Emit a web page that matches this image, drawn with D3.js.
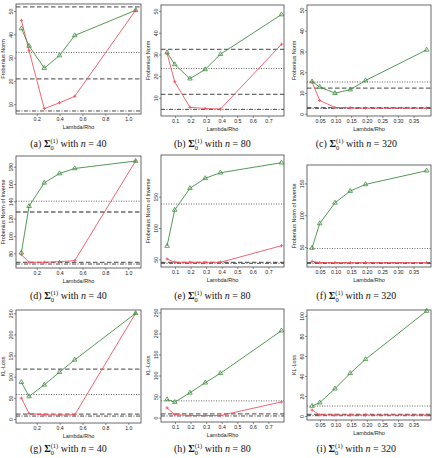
<!DOCTYPE html>
<html><head><meta charset="utf-8">
<script src="https://cdn.jsdelivr.net/npm/d3@7"></script>
<style>body{margin:0;background:#fff} svg{display:block}</style>
</head><body><svg id="c" width="432" height="458"></svg>
<script>
// ---- data ----
const lambdaN40  = [0.066, 0.133, 0.266, 0.399, 0.532, 1.064];
const lambdaN80  = [0.049, 0.098, 0.196, 0.294, 0.392, 0.784];
const lambdaN320 = [0.0245, 0.049, 0.098, 0.147, 0.196, 0.392];

// Frobenius norm
const greenA = [42.5, 35.0, 25.5, 30.9, 39.5, 50.3];
const redA   = [46.0, 33.0, 8.1, 10.6, 13.4, 50.3];
const greenB = [30.9, 25.4, 18.8, 23.1, 30.1, 48.4];
const redB   = [30.5, 17.4, 5.6, 5.1, 4.8, 34.7];
const greenC = [15.5, 12.9, 9.9, 11.6, 16.0, 30.8];
const redC   = [15.3, 6.4, 3.0, 2.8, 2.7, 2.7];
// Frobenius norm of inverse
const greenD = [80.7, 134.4, 161.4, 172.2, 178.0, 186.6];
const redD   = [78.4, 69.6, 69.6, 70.3, 71.5, 186.6];
const greenE = [71.2, 128.8, 163.4, 179.4, 188.3, 204.3];
const redE   = [50.5, 45.2, 45.2, 45.2, 45.2, 71.7];
const greenF = [48.4, 86.9, 119.4, 137.9, 148.4, 169.9];
const redF   = [27.4, 25.4, 25.4, 25.4, 25.4, 25.4];
// KL loss
const greenG = [87.3, 53.3, 80.9, 110.8, 139.9, 250.0];
const redG   = [49.5, 13.0, 10.0, 9.5, 10.0, 250.0];
const greenH = [43.1, 36.6, 58.9, 82.8, 105.3, 206.5];
const redH   = [23.0, 7.2, 4.8, 4.8, 4.8, 37.3];
const greenI = [10.0, 13.3, 27.3, 42.7, 56.7, 105.0];
const redI   = [6.0, 1.2, 1.0, 1.0, 1.0, 1.0];

// reference lines: [upper dashed, dotted, lower dashed, dot-dash]
const refA = [51.8, 32.2, 20.9, 7.1];
const refB = [32.3, 23.5, 11.6, 4.65];
const refC = [12.3, 15.3, 2.9, 2.6];
const refD = [127.7, 140.2, 69.6, 67.6];
const refE = [null, 138.3, 45.2, 43.6];
const refF = [null, 47.5, 25.4, 24.3];
const refG = [117.9, 58.0, 11.8, 7.0];
const refH = [null, 39.7, 8.6, 3.8];
const refI = [null, 10.0, 1.7, 0.3];

const ticksX1 = [0.2, 0.4, 0.6, 0.8, 1.0];
const ticksX2 = [0.1, 0.2, 0.3, 0.4, 0.5, 0.6, 0.7];
const ticksX3 = [0.05, 0.10, 0.15, 0.20, 0.25, 0.30, 0.35];
const ticksYA = [10, 20, 30, 40, 50];
const ticksYC = [0, 10, 20, 30, 40, 50];
const ticksYD = [80, 100, 120, 140, 160, 180];
const ticksYE = [50, 100, 150];
const ticksYG = [0, 50, 100, 150, 200, 250];
const ticksYI = [0, 20, 40, 60, 80, 100];

const yLabels = ["Frobenius Norm", "Frobenius Norm of Inverse", "KL-Loss"];
const letters = ["a","b","c","d","e","f","g","h","i"];
const sampleSizes = [40, 80, 320];

// ---- layout ----
const cols = [
  {l:16, r:141, xd:[0.019, 1.111], xs:lambdaN40, xt:ticksX1, fmt:".1f", cx:70},
  {l:161, r:284, xd:[0.010, 0.800], xs:lambdaN80, xt:ticksX2, fmt:".1f", cx:214},
  {l:307, r:431, xd:[0.0083, 0.406], xs:lambdaN320, xt:ticksX3, fmt:".2f", cx:358}
];
const panels = [
  {c:0,row:0,t:4,b:114,yd:[5.8,53],yt:ticksYA,g:greenA,r:redA,ref:refA},
  {c:1,row:0,t:5,b:116,yd:[1.6,52.8],yt:ticksYA,g:greenB,r:redB,ref:refB},
  {c:2,row:0,t:5,b:116,yd:[-1.1,52.4],yt:ticksYC,g:greenC,r:redC,ref:refC},
  {c:0,row:1,t:156,b:268,yd:[63,192.4],yt:ticksYD,g:greenD,r:redD,ref:refD},
  {c:1,row:1,t:155,b:267,yd:[37.7,216.6],yt:ticksYE,g:greenE,r:redE,ref:refE},
  {c:2,row:1,t:165,b:267,yd:[18.5,178.9],yt:ticksYE,g:greenF,r:redF,ref:refF},
  {c:0,row:2,t:310,b:423,yd:[-9.4,257.8],yt:ticksYG,g:greenG,r:redG,ref:refG},
  {c:1,row:2,t:309,b:422,yd:[-10.5,258],yt:ticksYG,g:greenH,r:redH,ref:refH},
  {c:2,row:2,t:310,b:420,yd:[-4,106],yt:ticksYI,g:greenI,r:redI,ref:refI}
];
const captionY = [147, 299, 452];
const GREEN = "#3f8f3f", RED = "#ef5560";
const refStyles = [
  {stroke:"#6a6a6a", w:1.3, dash:"4.5,2.5"},
  {stroke:"#555", w:0.9, dash:"1,1.5"},
  {stroke:"#6a6a6a", w:1.3, dash:"4.5,2.5"},
  {stroke:"#333", w:0.9, dash:"4,1.5,1,1.5"}
];
const SANS = "Liberation Sans, Arial, Helvetica, sans-serif";
const SERIF = "Liberation Serif, Times New Roman, serif";

const svg = d3.select("#c");

panels.forEach((p, i) => {
  const col = cols[p.c];
  const x = d3.scaleLinear().domain(col.xd).range([col.l, col.r]);
  const y = d3.scaleLinear().domain(p.yd).range([p.b, p.t]);
  const g = svg.append("g");

  // reference lines
  p.ref.forEach((v, k) => {
    if (v === null) return;
    const s = refStyles[k];
    g.append("line").attr("x1", col.l).attr("x2", col.r)
      .attr("y1", y(v)).attr("y2", y(v))
      .attr("stroke", s.stroke).attr("stroke-width", s.w).attr("stroke-dasharray", s.dash);
  });

  const pts = (vals) => col.xs.map((xv, j) => [x(xv), y(vals[j])]);
  const line = d3.line();
  // red series
  g.append("path").attr("d", line(pts(p.r))).attr("fill", "none")
    .attr("stroke", RED).attr("stroke-width", 0.9);
  // green series
  g.append("path").attr("d", line(pts(p.g))).attr("fill", "none")
    .attr("stroke", GREEN).attr("stroke-width", 0.9);
  // markers
  pts(p.r).forEach(([px, py]) => {
    g.append("path").attr("d", `M${px-1.6},${py}H${px+1.6}M${px},${py-1.6}V${py+1.6}`)
      .attr("stroke", RED).attr("stroke-width", 0.9);
  });
  pts(p.g).forEach(([px, py]) => {
    g.append("path").attr("d", d3.symbol(d3.symbolTriangle, 9)())
      .attr("transform", `translate(${px},${py})`)
      .attr("fill", "none").attr("stroke", GREEN).attr("stroke-width", 0.8);
  });

  // box
  g.append("rect").attr("x", col.l).attr("y", p.t)
    .attr("width", col.r - col.l).attr("height", p.b - p.t)
    .attr("fill", "none").attr("stroke", "#444").attr("stroke-width", 0.8);

  // x axis
  const xa = g.append("g").attr("transform", `translate(0,${p.b})`)
    .call(d3.axisBottom(x).tickValues(col.xt).tickSize(2).tickPadding(1.5)
      .tickFormat(d3.format(col.fmt)));
  xa.select(".domain").remove();
  xa.selectAll("line").attr("stroke", "#444").attr("stroke-width", 0.6);
  xa.selectAll("text").attr("font-family", SANS).attr("font-size", 5.2).attr("fill", "#222");

  // y axis
  const ya = g.append("g").attr("transform", `translate(${col.l},0)`)
    .call(d3.axisLeft(y).tickValues(p.yt).tickSize(2).tickFormat(d3.format("d")));
  ya.select(".domain").remove();
  ya.selectAll("line").attr("stroke", "#444").attr("stroke-width", 0.6);
  ya.selectAll("text").attr("font-family", SANS).attr("font-size", 5.2).attr("fill", "#222")
    .attr("transform", "rotate(-90)").attr("x", 0).attr("y", -3).attr("dy", 0)
    .attr("text-anchor", "middle");

  // axis labels
  g.append("text").attr("x", (col.l + col.r) / 2).attr("y", p.b + 15)
    .attr("text-anchor", "middle").attr("font-family", SANS).attr("font-size", 5.5)
    .attr("fill", "#222").text("Lambda/Rho");
  g.append("text").attr("transform", `translate(${col.l - 11},${(p.t + p.b) / 2}) rotate(-90)`)
    .attr("text-anchor", "middle").attr("font-family", SANS).attr("font-size", 5.5)
    .attr("fill", "#222").text(yLabels[p.row]);

  // caption
  const t = g.append("text").attr("y", captionY[p.row]).attr("font-family", SERIF)
    .attr("font-size", 10).attr("fill", "#111");
  t.append("tspan").text(`(${letters[i]}) `);
  t.append("tspan").attr("font-weight", "bold").text("\u03A3");
  t.append("tspan").attr("font-size", 6.5).attr("dy", 2.5).text("0");
  t.append("tspan").attr("font-size", 6.5).attr("dx", -3.3).attr("dy", -7).text("(1)");
  t.append("tspan").attr("dy", 4.5).text(" with ");
  t.append("tspan").attr("font-style", "italic").text("n");
  t.append("tspan").text(" = " + sampleSizes[p.c]);
  const w = t.node().getComputedTextLength();
  t.attr("x", col.cx - w / 2);
});
</script></body></html>
